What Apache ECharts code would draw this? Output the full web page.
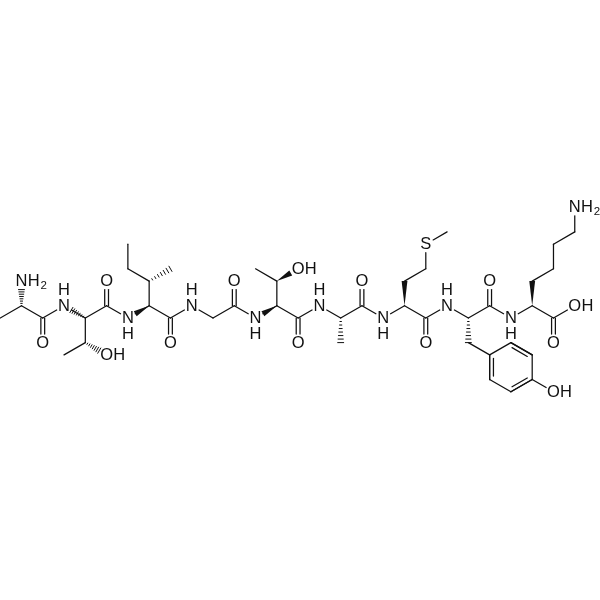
<!DOCTYPE html>
<html>
<head>
<meta charset="utf-8">
<style>html,body{margin:0;padding:0;background:#fff}#c{width:600px;height:600px}</style>
<script src="https://cdn.jsdelivr.net/npm/echarts@6/dist/echarts.min.js"></script>
</head>
<body>
<div id="c"></div>
<script>
// Atom lattice positions: [id, column, row]
const ala1 = [['a0',0,0],['a1',1,1],['a2',2,0],['a3',2,-2],['a4',1,3]];
const thr1 = [['t0',3,1],['t1',4,0],['t2',5,1],['t3',5,3],['t4',4,-2],['t5',3,-3],['t6',5,-3]];
const ile = [['i0',6,0],['i1',7,1],['i2',8,0],['i3',8,-2],['i4',7,3],['i5',8,4],['i6',6,4],['i7',6,6]];
const gly = [['g0',9,1],['g1',10,0],['g2',11,1],['g3',11,3]];
const thr2 = [['u0',12,0],['u1',13,1],['u2',14,0],['u3',14,-2],['u4',13,3],['u5',12,4],['u6',14,4]];
const ala2 = [['b0',15,1],['b1',16,0],['b2',16,-2],['b3',17,1],['b4',17,3]];
const met = [['m0',18,0],['m1',19,1],['m2',20,0],['m3',20,-2],['m4',19,3],['m5',20,4],['m6',20,6],['m7',21,7]];
const tyr = [['y0',21,1],['y1',22,0],['y2',22,-2],['y3',23,-3],['y4',24,-2],['y5',25,-3],['y6',25,-5],['y7',24,-6],['y8',23,-5],['y9',26,-6],['y10',23,1],['y11',23,3]];
const lys = [['k0',24,0],['k1',25,1],['k2',26,0],['k3',26,-2],['k4',27,1],['k5',25,3],['k6',26,4],['k7',26,6],['k8',27,7],['k9',27,9]];

// Atom labels: [id, element, attached hydrogen text, where it goes]
const labels = [
  ['a4','N','H2','right'],['a3','O','',''],
  ['t0','N','H','up'],['t3','O','',''],['t6','O','H','right'],
  ['i0','N','H','down'],['i3','O','',''],
  ['g0','N','H','up'],['g3','O','',''],
  ['u0','N','H','down'],['u3','O','',''],['u6','O','H','right'],
  ['b0','N','H','up'],['b4','O','',''],
  ['m0','N','H','down'],['m3','O','',''],['m6','S','',''],
  ['y0','N','H','up'],['y9','O','H','right'],['y11','O','',''],
  ['k0','N','H','down'],['k3','O','',''],['k4','O','H','right'],['k9','N','H2','right']
];

const singleBonds = [
  ['a0','a1'],['a1','a2'],['a2','t0'],['t0','t1'],['t1','t2'],['t2','i0'],['t1','t4'],['t4','t5'],
  ['i0','i1'],['i1','i2'],['i2','g0'],['i1','i4'],['i4','i6'],['i6','i7'],
  ['g0','g1'],['g1','g2'],['g2','u0'],['u0','u1'],['u1','u2'],['u1','u4'],['u4','u5'],['u2','b0'],
  ['b0','b1'],['b1','b3'],['b3','m0'],['m0','m1'],['m1','m2'],['m2','y0'],['m4','m5'],['m5','m6'],['m6','m7'],
  ['y0','y1'],['y1','y10'],['y10','k0'],['y2','y3'],['y3','y4'],['y4','y5'],['y5','y6'],['y6','y7'],['y7','y8'],['y8','y3'],['y6','y9'],
  ['k0','k1'],['k1','k2'],['k2','k4'],['k5','k6'],['k6','k7'],['k7','k8'],['k8','k9']
];
const carbonylBonds = [['a2','a3'],['t2','t3'],['i2','i3'],['g2','g3'],['u2','u3'],['b3','b4'],['m2','m3'],['y10','y11'],['k2','k3']];
const ringInnerBonds = [['y3','y8'],['y4','y5'],['y6','y7']];
const wedgeBonds = [['i1','i0'],['u1','u0'],['u4','u6'],['m1','m4'],['k1','k5']];
const hashBonds = [['a1','a4'],['t1','t0'],['t4','t6'],['i4','i5'],['b1','b2'],['y1','y2']];
const ringCentre = [24,-4];

const COL_PX = 21.28, ROW_PX = 12.3, COL0_PX = 0.2, ROW0_PX = 318;
const INK = '#111', LW = 1.25, FONT = '"Liberation Sans", Arial, sans-serif', FS = 16.5;

const atoms = [...ala1,...thr1,...ile,...gly,...thr2,...ala2,...met,...tyr,...lys];
const pos = Object.fromEntries(atoms.map(a => [a[0],[a[1],a[2]]]));
const labelled = new Set(labels.map(l => l[0]));
const row = (kind) => (b) => [pos[b[0]][0],pos[b[0]][1],pos[b[1]][0],pos[b[1]][1],kind,labelled.has(b[0])?1:0,labelled.has(b[1])?1:0];
const bondData = [
  ...singleBonds.map(row(0)),...carbonylBonds.map(row(1)),...ringInnerBonds.map(row(2)),
  ...wedgeBonds.map(row(3)),...hashBonds.map(row(4))
];
const labelData = labels.map(l => [pos[l[0]][0],pos[l[0]][1],l[1],l[2],l[3]]);

function renderBond(params, api){
  const p = api.coord([api.value(0),api.value(1)]), q = api.coord([api.value(2),api.value(3)]);
  const kind = api.value(4);
  const dx=q[0]-p[0], dy=q[1]-p[1], len=Math.hypot(dx,dy), ux=dx/len, uy=dy/len, nx=-uy, ny=ux;
  const GAP=8.5;
  const s = api.value(5)?GAP:0, e = api.value(6)?GAP:0;
  const a=[p[0]+ux*s,p[1]+uy*s], b=[q[0]-ux*e,q[1]-uy*e];
  const line=(x1,y1,x2,y2,w)=>({type:'line',shape:{x1,y1,x2,y2},style:{stroke:INK,lineWidth:w||LW,lineCap:'round'}});
  if(kind===0) return line(a[0],a[1],b[0],b[1]);
  if(kind===1){
    const o=1.9;
    return {type:'group',children:[
      line(a[0]+nx*o,a[1]+ny*o,b[0]+nx*o,b[1]+ny*o),
      line(a[0]-nx*o,a[1]-ny*o,b[0]-nx*o,b[1]-ny*o)
    ]};
  }
  if(kind===2){
    const c=api.coord(ringCentre), mx=(p[0]+q[0])/2, my=(p[1]+q[1])/2;
    const sign=((c[0]-mx)*nx+(c[1]-my)*ny)>0?1:-1, o=3.8*sign, t=3.5;
    return {type:'group',children:[
      line(p[0],p[1],q[0],q[1]),
      line(p[0]+ux*t+nx*o,p[1]+uy*t+ny*o,q[0]-ux*t+nx*o,q[1]-uy*t+ny*o)
    ]};
  }
  if(kind===3){
    const w=2.9;
    return {type:'polygon',shape:{points:[[a[0],a[1]],[b[0]+nx*w,b[1]+ny*w],[b[0]-nx*w,b[1]-ny*w]]},style:{fill:INK}};
  }
  const L=Math.hypot(b[0]-a[0],b[1]-a[1]), n=7, kids=[];
  for(let i=1;i<=n;i++){
    const t=i/n*L, w=0.4+2.6*i/n, x=a[0]+ux*t, y=a[1]+uy*t;
    kids.push(line(x+nx*w,y+ny*w,x-nx*w,y-ny*w,1));
  }
  return {type:'group',children:kids};
}

function renderLabel(params, api){
  const c = api.coord([api.value(0),api.value(1)]);
  const el = api.value(2), h = api.value(3), where = api.value(4);
  const txt=(t,x,y,fs)=>({type:'text',style:{text:t,x,y,font:(fs||FS)+'px '+FONT,fill:INK,align:'center',verticalAlign:'middle'}});
  const kids=[txt(el,c[0],c[1]+0.6)];
  if(h==='H' && where==='up') kids.push(txt('H',c[0],c[1]-15));
  if(h==='H' && where==='down') kids.push(txt('H',c[0],c[1]+16));
  if(h==='H' && where==='right') kids.push(txt('H',c[0]+12.6,c[1]+0.6));
  if(h==='H2'){ kids.push(txt('H',c[0]+12.2,c[1]+0.6)); kids.push(txt('2',c[0]+22.3,c[1]+4.6,11.5)); }
  return {type:'group',children:kids};
}

const chart = echarts.init(document.getElementById('c'),null,{renderer:'canvas'});
chart.setOption({
  animation:false,
  backgroundColor:'#fff',
  grid:{left:0,top:0,width:600,height:600},
  xAxis:{type:'value',show:false,min:-COL0_PX/COL_PX,max:(600-COL0_PX)/COL_PX,splitLine:{show:false}},
  yAxis:{type:'value',show:false,min:(ROW0_PX-600)/ROW_PX,max:ROW0_PX/ROW_PX,splitLine:{show:false}},
  series:[
    {type:'custom',name:'bonds',coordinateSystem:'cartesian2d',clip:false,silent:true,renderItem:renderBond,data:bondData,encode:{x:[0,2],y:[1,3]}},
    {type:'custom',name:'atoms',coordinateSystem:'cartesian2d',clip:false,silent:true,renderItem:renderLabel,data:labelData,encode:{x:0,y:1},z:3}
  ]
});
</script>
</body>
</html>
